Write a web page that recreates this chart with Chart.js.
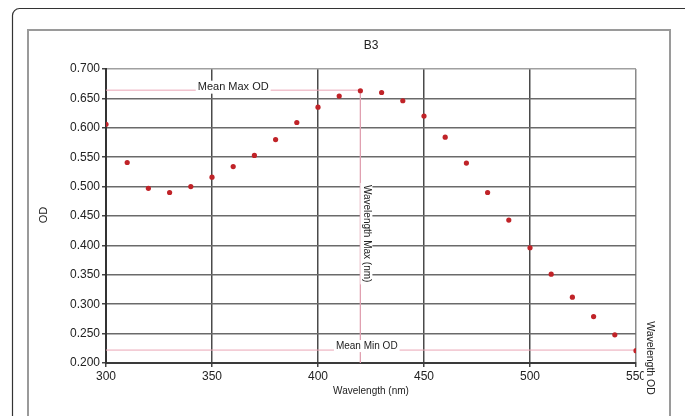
<!DOCTYPE html>
<html><head><meta charset="utf-8">
<script src="https://cdn.jsdelivr.net/npm/chart.js@4/dist/chart.umd.min.js"></script>
<style>html,body{margin:0;padding:0;background:#fff}canvas{display:block}</style>
</head><body><canvas id="c" width="685" height="416"></canvas>
<script>
const wavelengths = [300,310,320,330,340,350,360,370,380,390,400,410,420,430,440,450,460,470,480,490,500,510,520,530,540,550];
const odValues = [0.606,0.541,0.497,0.490,0.500,0.516,0.534,0.553,0.580,0.609,0.635,0.654,0.663,0.660,0.646,0.620,0.584,0.540,0.490,0.443,0.396,0.351,0.312,0.279,0.248,0.221];
const meanMaxOD = 0.664;
const meanMinOD = 0.222;
const wavelengthMax = 420;
const xTicks = [300,350,400,450,500,550];
const yTicks = [0.200,0.250,0.300,0.350,0.400,0.450,0.500,0.550,0.600,0.650,0.700];
const chartTitle = 'B3';
const xTitle = 'Wavelength (nm)';
const yTitle = 'OD';

const FONT = '"Liberation Sans", Arial, sans-serif';
const points = wavelengths.map((w,i)=>({x:w,y:odValues[i]}));
const maxLine = [{x:xTicks[0],y:meanMaxOD},{x:wavelengthMax,y:meanMaxOD}];
const vLine = [{x:wavelengthMax,y:meanMaxOD},{x:wavelengthMax,y:yTicks[0]}];
const minLine = [{x:xTicks[0],y:meanMinOD},{x:xTicks[xTicks.length-1],y:meanMinOD}];

function boxText(ctx, text, cx, cy, size, rot){
  ctx.save();
  ctx.translate(cx, cy);
  if (rot) ctx.rotate(rot);
  ctx.font = size + 'px ' + FONT;
  const w = ctx.measureText(text).width;
  ctx.fillStyle = '#fff';
  ctx.fillRect(-w/2-2, -size/2-1, w+4, size+2);
  ctx.fillStyle = '#222';
  ctx.textAlign = 'center';
  ctx.textBaseline = 'middle';
  ctx.fillText(text, 0, 0);
  ctx.restore();
}

const decor = {
  id: 'decor',
  beforeDraw(chart){
    const ctx = chart.ctx;
    ctx.save();
    ctx.fillStyle = '#fff';
    ctx.fillRect(0,0,chart.width,chart.height);
    // outer rounded frame
    ctx.strokeStyle = '#333';
    ctx.lineWidth = 1.2;
    ctx.beginPath();
    ctx.roundRect(12.5, 8.5, 680, 420, 7);
    ctx.stroke();
    // inner gray frame
    ctx.strokeStyle = '#9a9a9a';
    ctx.lineWidth = 2;
    ctx.strokeRect(28, 30, 642, 400);
    ctx.restore();
  },
  afterDraw(chart){
    const ctx = chart.ctx;
    const xs = chart.scales.x, ys = chart.scales.y;
    const ca = chart.chartArea;
    ctx.save();
    // titles
    ctx.fillStyle = '#222';
    ctx.textAlign = 'center';
    ctx.textBaseline = 'middle';
    ctx.font = '12px ' + FONT;
    ctx.fillText(chartTitle, (ca.left+ca.right)/2, 46);
    ctx.font = '10px ' + FONT;
    ctx.fillText(xTitle, (ca.left+ca.right)/2, 391);
    ctx.save();
    ctx.translate(43.5, 215);
    ctx.rotate(-Math.PI/2);
    ctx.font = '11px ' + FONT;
    ctx.fillText(yTitle, 0, 0);
    ctx.restore();
    ctx.restore();
    // reference line labels
    boxText(ctx, 'Mean Max OD', xs.getPixelForValue(360), ys.getPixelForValue(meanMaxOD)-3, 11, 0);
    boxText(ctx, 'Wavelength Max (nm)', xs.getPixelForValue(wavelengthMax)+6, ys.getPixelForValue(0.42), 10, Math.PI/2);
    boxText(ctx, 'Mean Min OD', xs.getPixelForValue(423), ys.getPixelForValue(meanMinOD)-4, 10, 0);
    boxText(ctx, 'Wavelength OD', xs.getPixelForValue(xTicks[xTicks.length-1])+14, ys.getPixelForValue(yTicks[0])-5, 10.5, Math.PI/2);
  }
};

function xGridColor(c){
  const v = c.tick && c.tick.value;
  if (v === 550) return '#8a8a8a';
  return '#4a4a4a';
}
function yGridColor(c){
  const v = c.tick && c.tick.value;
  if (Math.abs(v-0.7) < 1e-6) return '#a0a0a0';
  return '#6a6a6a';
}

new Chart(document.getElementById('c'), {
  type: 'scatter',
  data: {
    datasets: [
      {data: maxLine, showLine: true, borderColor: '#eaa5b5', borderWidth: 1, pointRadius: 0, order: 3},
      {data: vLine, showLine: true, borderColor: '#e0a0b0', borderWidth: 1, pointRadius: 0, order: 3},
      {data: minLine, showLine: true, borderColor: '#eaa5b5', borderWidth: 1, pointRadius: 0, order: 3},
      {data: points, backgroundColor: '#c02328', borderWidth: 0, pointRadius: 2.6, order: 1}
    ]
  },
  options: {
    responsive: false,
    animation: false,
    devicePixelRatio: 1,
    layout: {padding: {left: 0, top: 69, right: 49, bottom: 0}},
    plugins: {legend: {display: false}, tooltip: {enabled: false}, title: {display: false}},
    scales: {
      x: {
        type: 'linear', min: xTicks[0], max: xTicks[xTicks.length-1],
        afterBuildTicks: s => { s.ticks = xTicks.map(v=>({value:v})); },
        afterFit: s => { s.height = 53; },
        ticks: {color: '#222', font: {size: 12, family: FONT}, padding: 2, maxRotation: 0, callback: v => String(v)},
        grid: {color: xGridColor, lineWidth: 1.5, tickLength: 4, tickColor: '#444'},
        border: {color: '#3a3a3a', width: 2}
      },
      y: {
        type: 'linear', min: yTicks[0], max: yTicks[yTicks.length-1],
        afterBuildTicks: s => { s.ticks = yTicks.map(v=>({value:v})); },
        afterFit: s => { s.width = 106; },
        ticks: {color: '#222', font: {size: 12, family: FONT}, padding: 2, callback: v => Number(v).toFixed(3)},
        grid: {color: yGridColor, lineWidth: 1.5, tickLength: 4, tickColor: '#444'},
        border: {color: '#333', width: 2}
      }
    }
  },
  plugins: [decor]
});
</script>
</body></html>
